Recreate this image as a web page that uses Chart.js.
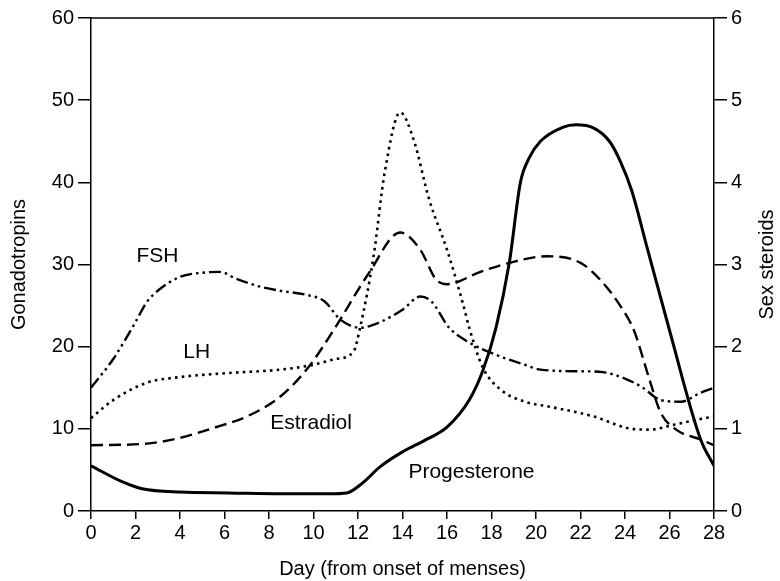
<!DOCTYPE html>
<html><head><meta charset="utf-8">
<script src="https://cdn.jsdelivr.net/npm/chart.js@4"></script>
<style>html,body{margin:0;padding:0;background:#fff}#wrap{width:780px;height:581px}</style>
</head><body><div id="wrap"><canvas id="c" width="780" height="581"></canvas></div>
<script>
const fshDays = [0,1,2,2.5,3,4,5,5.8,6.5,7.6,8.5,9.7,10.5,11.2,12.1,13,14,14.8,15.3,16.1,17,18.4,19.5,20.2,22.1,23,24.1,24.8,25.6,26.5,27.4,28];
const fshVals = [15,18.5,23,25.4,26.8,28.5,29,29.1,28.3,27.3,26.8,26.3,25.5,23.3,22.3,23.0,24.5,26.1,25.5,22.3,20.5,18.8,17.8,17.2,17.0,16.9,16.0,15.0,13.5,13.3,14.4,15];
const lhDays = [0,1,2.5,4,6.2,8.5,10,11,11.8,12.1,12.7,13.2,13.9,14.5,15.2,16.0,16.7,17.0,17.6,18.4,19.5,20.6,22.6,24.1,25.1,26.2,27.2,28];
const lhVals = [11.3,13.5,15.6,16.3,16.8,17.2,17.8,18.5,19.4,22.4,31,41.2,48.5,45.2,37.9,31.8,25.4,22.3,17.5,14.8,13.3,12.7,11.5,10.1,9.9,10.5,11.1,11.5];
const e2Days = [0,2.5,4,5.5,7,8.5,9.8,10.9,12.5,13.9,14.8,15.5,16,17.5,18.8,20.5,22,23,23.9,24.4,25.1,25.6,26.3,27.4,28];
const e2Vals = [0.8,0.82,0.89,1.01,1.15,1.39,1.76,2.2,2.9,3.39,3.18,2.82,2.76,2.91,3.02,3.10,3.02,2.78,2.45,2.2,1.6,1.2,0.99,0.87,0.8];
const progDays = [0,1.45,2.3,4,6.2,8.5,10.7,11.5,12.2,13,14,15,16,17,17.6,18.2,18.8,19.3,19.7,20.2,21.2,21.8,22.6,23.3,23.8,24.3,25,26,27.4,28];
const progVals = [0.55,0.35,0.27,0.23,0.22,0.21,0.21,0.22,0.34,0.54,0.72,0.86,1.02,1.35,1.7,2.23,3.02,4.0,4.3,4.5,4.67,4.7,4.66,4.5,4.25,3.9,3.2,2.2,0.87,0.55];
const xTicks = [0,2,4,6,8,10,12,14,16,18,20,22,24,26,28];
const leftTicks = [0,10,20,30,40,50,60];
const rightTicks = [0,1,2,3,4,5,6];
const seriesLabels = [
  {text:'FSH', x:2.99, y:31.0},
  {text:'LH', x:4.75, y:19.3},
  {text:'Estradiol', x:9.89, y:10.7},
  {text:'Progesterone', x:17.1, y:4.75}
];
const rightTitle = 'Sex steroids';
const pts = (xs, ys) => xs.map((x,i)=>({x:x, y:ys[i]}));
const FONT = "'Liberation Sans', Arial, sans-serif";

const labelPlugin = {
  id:'labels',
  afterDatasetsDraw(chart){
    const ctx = chart.ctx, a = chart.chartArea;
    ctx.save();
    ctx.strokeStyle = '#000'; ctx.lineWidth = 1.5;
    ctx.beginPath(); ctx.moveTo(a.left, a.top); ctx.lineTo(a.right, a.top); ctx.stroke();
    ctx.fillStyle = '#000';
    ctx.font = "21px " + FONT;
    ctx.textAlign = 'center'; ctx.textBaseline = 'middle';
    seriesLabels.forEach(l=>{
      ctx.fillText(l.text, chart.scales.x.getPixelForValue(l.x), chart.scales.y.getPixelForValue(l.y));
    });
    ctx.font = "20px " + FONT;
    ctx.translate(767, (a.top + a.bottom)/2);
    ctx.rotate(-Math.PI/2);
    ctx.fillText(rightTitle, 0, 0);
    ctx.restore();
  }
};

new Chart(document.getElementById('c'), {
  type:'line',
  data:{datasets:[
    {label:'FSH', data:pts(fshDays,fshVals), yAxisID:'y', borderColor:'#000', borderWidth:2.4, borderDash:[12,4,2.5,4,2.5,4], cubicInterpolationMode:'monotone', pointRadius:0, fill:false},
    {label:'LH', data:pts(lhDays,lhVals), yAxisID:'y', borderColor:'#000', borderWidth:2.6, borderDash:[2.6,4.2], cubicInterpolationMode:'monotone', pointRadius:0, fill:false},
    {label:'Estradiol', data:pts(e2Days,e2Vals), yAxisID:'y2', borderColor:'#000', borderWidth:2.4, borderDash:[12,6], cubicInterpolationMode:'monotone', pointRadius:0, fill:false},
    {label:'Progesterone', data:pts(progDays,progVals), yAxisID:'y2', borderColor:'#000', borderWidth:3, cubicInterpolationMode:'monotone', pointRadius:0, fill:false}
  ]},
  options:{
    responsive:false, animation:false, maintainAspectRatio:false,
    layout:{padding:{top:18,left:0,right:0,bottom:0}},
    plugins:{legend:{display:false}, tooltip:{enabled:false}},
    scales:{
      x:{type:'linear', min:0, max:28,
        afterBuildTicks(s){ s.ticks = xTicks.map(v=>({value:v})); },
        afterFit(s){ s.height = 70; },
        ticks:{color:'#000', font:{family:FONT, size:20}, padding:2, maxRotation:0, autoSkip:false},
        grid:{drawOnChartArea:false, drawTicks:true, tickLength:8, color:'#000', lineWidth:1.5},
        border:{display:true, color:'#000', width:1.5},
        title:{display:true, text:'Day (from onset of menses)', color:'#000', font:{family:FONT, size:20}, padding:{top:4,bottom:0}}
      },
      y:{type:'linear', position:'left', min:0, max:60,
        afterBuildTicks(s){ s.ticks = leftTicks.map(v=>({value:v})); },
        afterFit(s){ s.width = 91; },
        ticks:{color:'#000', font:{family:FONT, size:20}, padding:4},
        grid:{drawOnChartArea:false, drawTicks:true, tickLength:13, color:'#000', lineWidth:1.5},
        border:{display:true, color:'#000', width:1.5},
        title:{display:true, text:'Gonadotropins', color:'#000', font:{family:FONT, size:20}, padding:{top:7}}
      },
      y2:{type:'linear', position:'right', min:0, max:6,
        afterBuildTicks(s){ s.ticks = rightTicks.map(v=>({value:v})); },
        afterFit(s){ s.width = 66; },
        ticks:{color:'#000', font:{family:FONT, size:20}, padding:4},
        grid:{drawOnChartArea:false, drawTicks:true, tickLength:13, color:'#000', lineWidth:1.5},
        border:{display:true, color:'#000', width:1.5},
        title:{display:false}
      }
    }
  },
  plugins:[labelPlugin]
});
</script></body></html>
